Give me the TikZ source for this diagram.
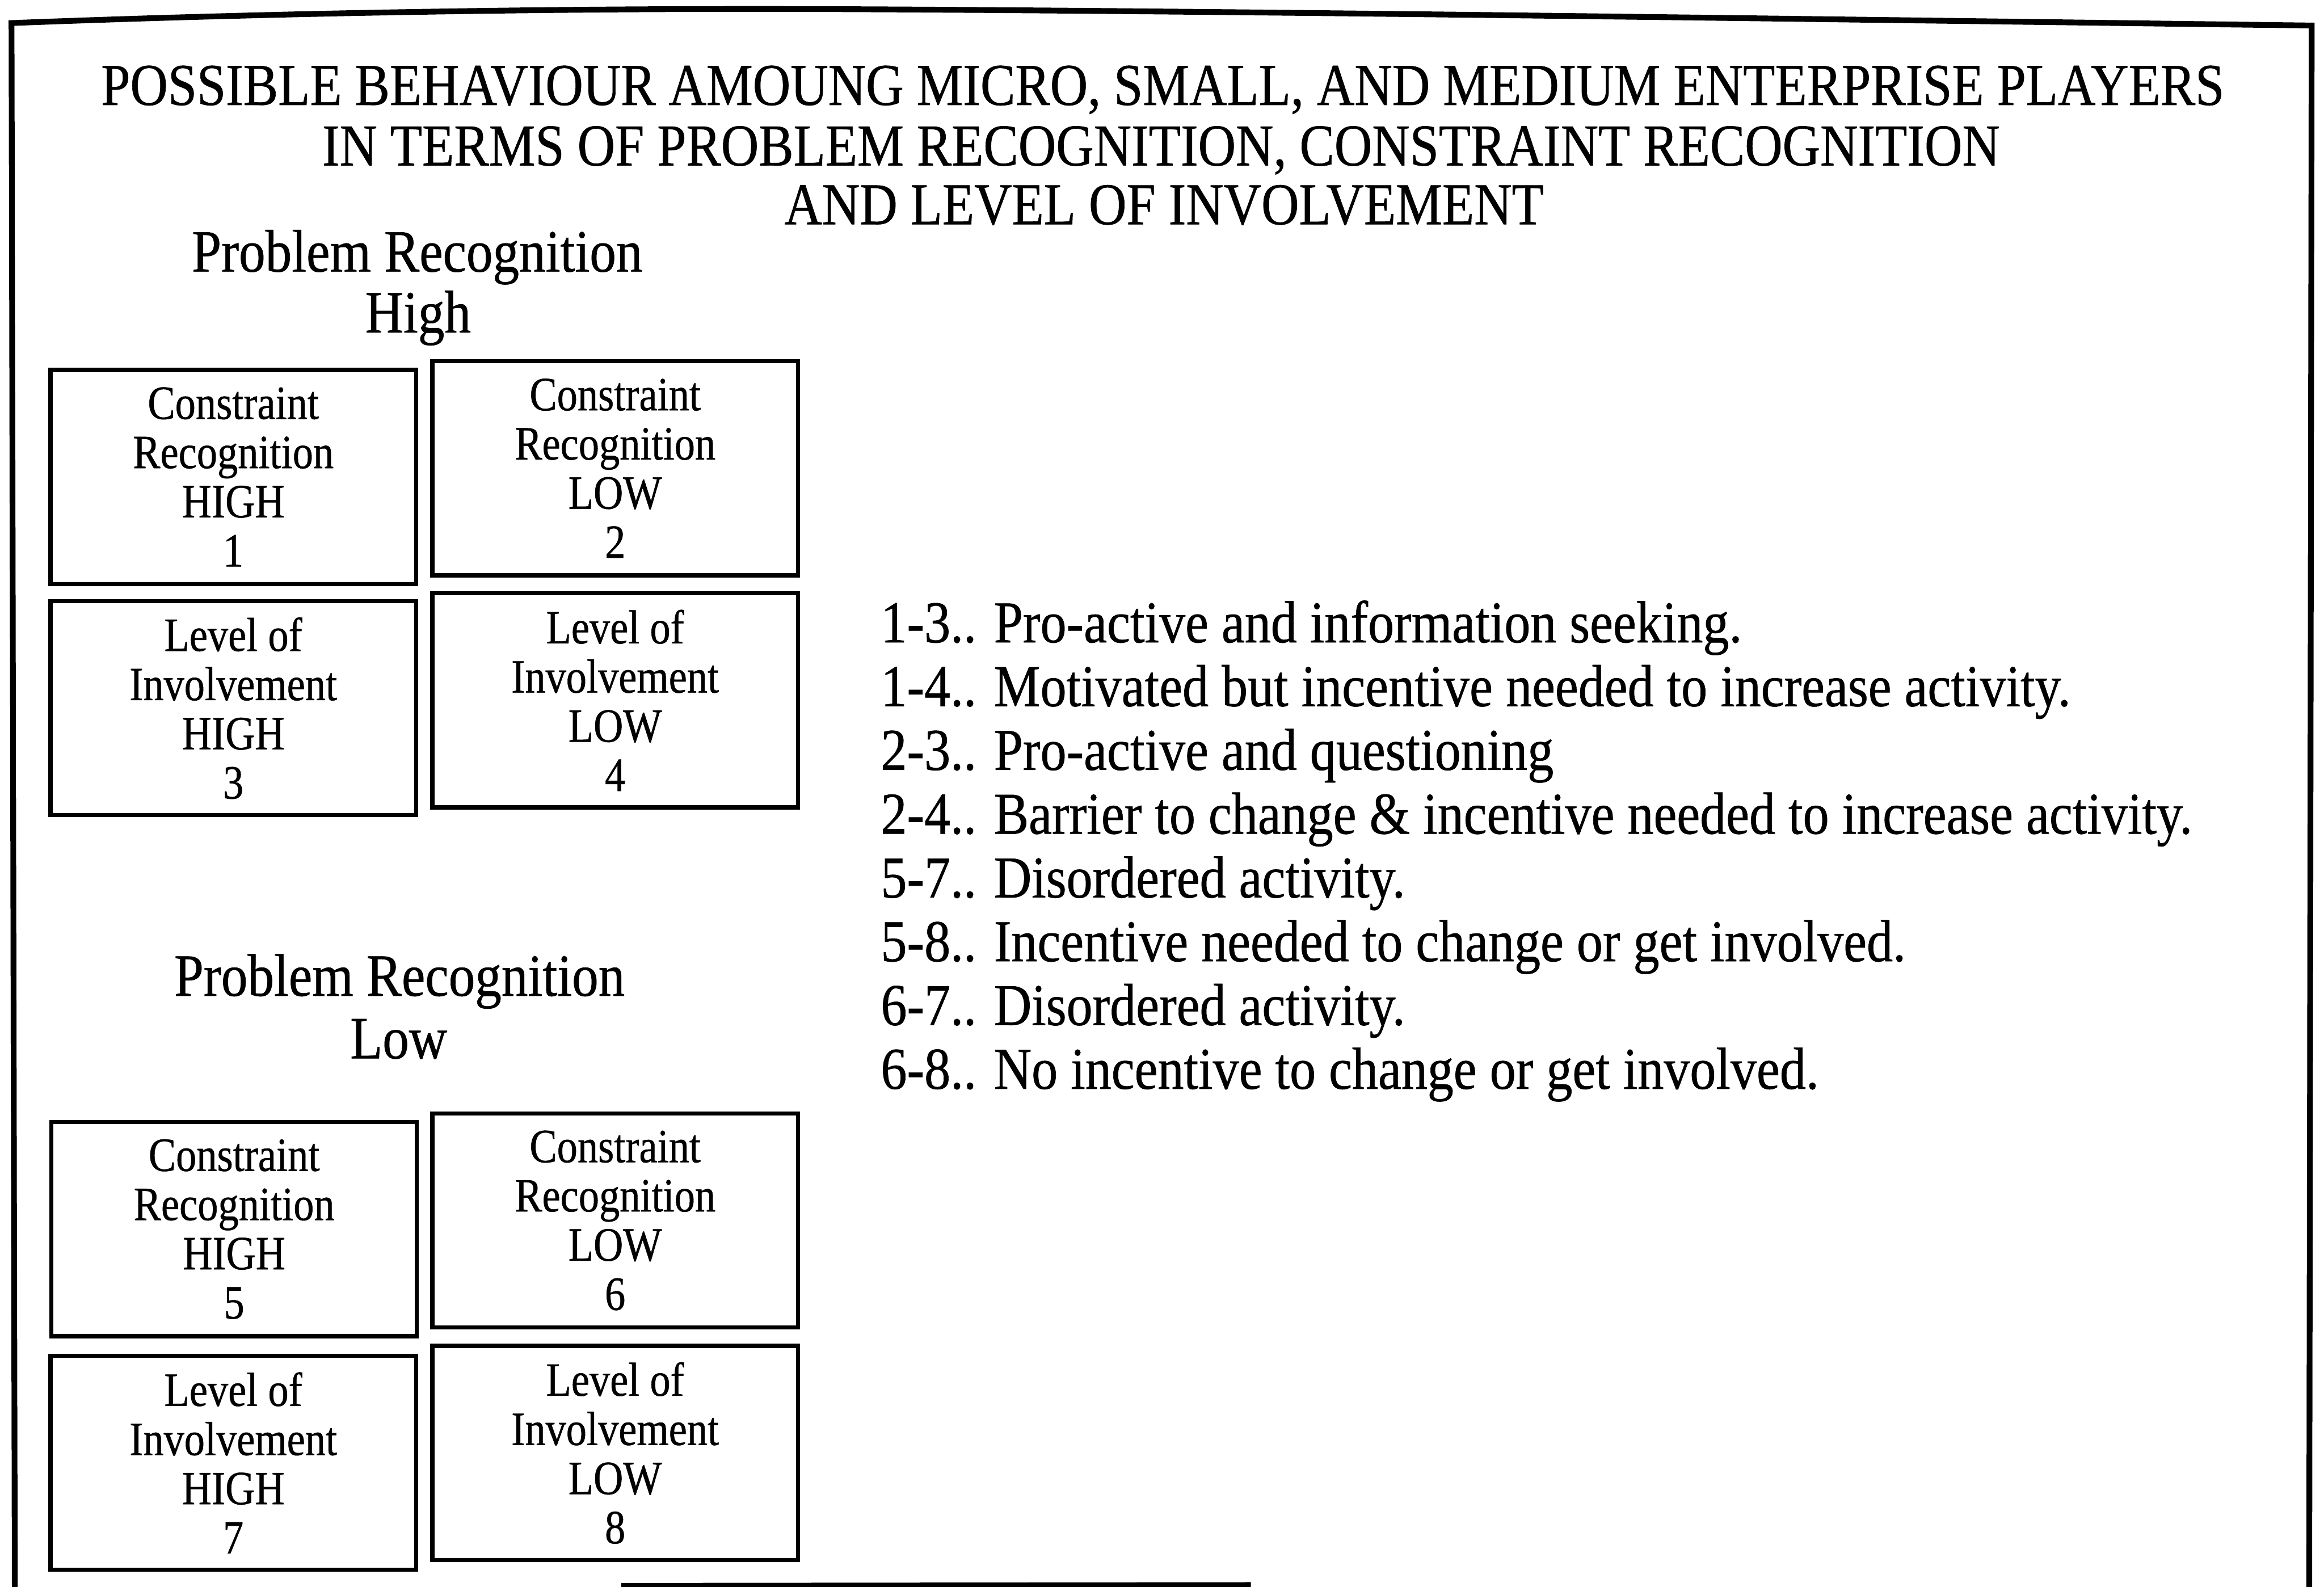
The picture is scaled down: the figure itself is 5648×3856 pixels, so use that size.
\documentclass[tikz,border=0pt]{standalone}
\usepackage{fontspec}
\setmainfont{Liberation Serif}[FakeStretch=0.88, FakeBold=0.6]
\newfontfamily\cellfont{Liberation Serif}[FakeStretch=0.86, FakeBold=0.6]
\begin{document}
\begin{tikzpicture}[x=0.01cm, y=-0.01cm,
  frameline/.style={line width=0.14cm, line join=miter},
  cell/.style={draw, line width=0.1cm, minimum width=8.88cm, minimum height=5.2cm,
    inner sep=0pt, align=center, font=\cellfont\fontsize{33pt}{34pt}\selectfont},
  titleline/.style={anchor=base, inner sep=0pt, font=\fontsize{41pt}{43pt}\selectfont},
  heading/.style={anchor=base, inner sep=0pt, font=\fontsize{41.5pt}{44pt}\selectfont},
  entry/.style={anchor=base west, inner sep=0pt, font=\fontsize{41pt}{44pt}\selectfont}]
\useasboundingbox (0,0) rectangle (5648,3856);
\fill[white] (0,0) rectangle (5648,3856);

% outer frame (open at the bottom)
\draw[frameline] (36,3870) -- (28,56)
  .. controls (700,30) and (1400,20) .. (1980,22)
  .. controls (3000,26) and (4500,48) .. (5618,62) -- (5612,3870);
\draw[line width=0.12cm] (1510,3853) -- (3040,3851);

% title
\node[titleline] (t1) at (2826,255) {POSSIBLE BEHAVIOUR AMOUNG MICRO, SMALL, AND MEDIUM ENTERPRISE PLAYERS};
\node[titleline] (t2) at (2822,402) {IN TERMS OF PROBLEM RECOGNITION, CONSTRAINT RECOGNITION};
\node[titleline] (t3) at (2829,545) {AND LEVEL OF INVOLVEMENT};

% problem recognition: high
\node[heading] (prh1) at (1014,660) {Problem Recognition};
\node[heading] (prh2) at (1016,808) {High};
\node[cell] (c1) at (567,1159) {Constraint\\Recognition\\HIGH\\1};
\node[cell] (c2) at (1495,1138) {Constraint\\Recognition\\LOW\\2};
\node[cell] (c3) at (567,1721) {Level of\\Involvement\\HIGH\\3};
\node[cell] (c4) at (1495,1702) {Level of\\Involvement\\LOW\\4};

% problem recognition: low
\node[heading] (prl1) at (971,2420) {Problem Recognition};
\node[heading] (prl2) at (969,2572) {Low};
\node[cell] (c5) at (569,2987) {Constraint\\Recognition\\HIGH\\5};
\node[cell] (c6) at (1495,2966) {Constraint\\Recognition\\LOW\\6};
\node[cell] (c7) at (567,3555) {Level of\\Involvement\\HIGH\\7};
\node[cell] (c8) at (1495,3531) {Level of\\Involvement\\LOW\\8};

% combinations
\node[entry] (e1) at (2140,1561) {1-3.. Pro-active and information seeking.};
\node[entry] (e2) at (2140,1716) {1-4.. Motivated but incentive needed to increase activity.};
\node[entry] (e3) at (2140,1871) {2-3.. Pro-active and questioning};
\node[entry] (e4) at (2140,2026) {2-4.. Barrier to change \& incentive needed to increase activity.};
\node[entry] (e5) at (2140,2181) {5-7.. Disordered activity.};
\node[entry] (e6) at (2140,2336) {5-8.. Incentive needed to change or get involved.};
\node[entry] (e7) at (2140,2491) {6-7.. Disordered activity.};
\node[entry] (e8) at (2140,2646) {6-8.. No incentive to change or get involved.};
\end{tikzpicture}
\end{document}
